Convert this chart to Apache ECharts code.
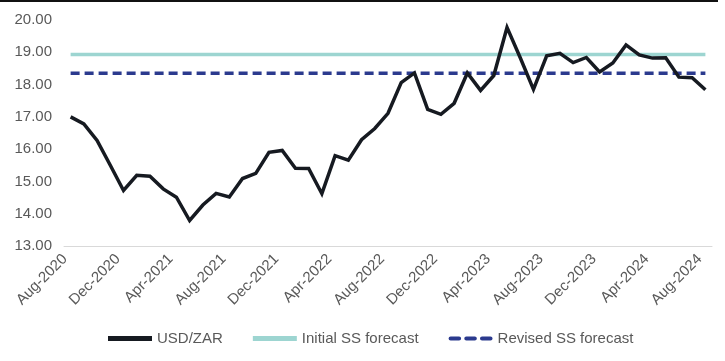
<!DOCTYPE html>
<html>
<head>
<meta charset="utf-8">
<script src="https://cdn.jsdelivr.net/npm/echarts@6/dist/echarts.min.js"></script>
<style>html,body{margin:0;padding:0;background:#fff;}#c{width:725px;height:361px;}</style>
</head>
<body>
<div id="c"></div>
<script>
const months = ["Aug-2020","Sep-2020","Oct-2020","Nov-2020","Dec-2020","Jan-2021","Feb-2021","Mar-2021","Apr-2021","May-2021","Jun-2021","Jul-2021","Aug-2021","Sep-2021","Oct-2021","Nov-2021","Dec-2021","Jan-2022","Feb-2022","Mar-2022","Apr-2022","May-2022","Jun-2022","Jul-2022","Aug-2022","Sep-2022","Oct-2022","Nov-2022","Dec-2022","Jan-2023","Feb-2023","Mar-2023","Apr-2023","May-2023","Jun-2023","Jul-2023","Aug-2023","Sep-2023","Oct-2023","Nov-2023","Dec-2023","Jan-2024","Feb-2024","Mar-2024","Apr-2024","May-2024","Jun-2024","Jul-2024","Aug-2024"];
const usdzar = [17.00,16.78,16.27,15.50,14.72,15.19,15.16,14.77,14.51,13.79,14.27,14.63,14.52,15.09,15.25,15.90,15.96,15.41,15.40,14.62,15.80,15.66,16.29,16.64,17.11,18.06,18.36,17.23,17.08,17.42,18.36,17.82,18.28,19.77,18.83,17.85,18.89,18.97,18.68,18.84,18.39,18.67,19.23,18.92,18.82,18.83,18.23,18.21,17.84];
const initialSS = 18.93;
const revisedSS = 18.35;
const yTicks = [13,14,15,16,17,18,19,20];

const chart = echarts.init(document.getElementById('c'), null, {renderer:'canvas'});
const font = 'Liberation Sans, Arial, sans-serif';
chart.setOption({
  animation:false,
  backgroundColor:'#fff',
  graphic:[{type:'rect', shape:{x:0,y:0,width:718,height:2}, style:{fill:'#111'}}],
  grid:{left:64,right:13,top:20,bottom:115},
  legend:{
    bottom:10, left:103, itemWidth:44, itemHeight:5, itemGap:30,
    textStyle:{fontFamily:font,fontSize:15,color:'#595959'},
    data:[
      {name:'USD/ZAR', icon:'rect'},
      {name:'Initial SS forecast', icon:'rect'},
      {name:'Revised SS forecast', icon:'path://M2,0h8a2,2 0 0 1 0,4h-8a2,2 0 0 1 0,-4z M17,0h8a2,2 0 0 1 0,4h-8a2,2 0 0 1 0,-4z M32,0h8a2,2 0 0 1 0,4h-8a2,2 0 0 1 0,-4z'}
    ]
  },
  xAxis:{
    type:'category', data:months, boundaryGap:true,
    axisLine:{lineStyle:{color:'#d9d9d9',width:1}},
    axisTick:{interval:3,length:5,lineStyle:{color:'#d9d9d9'}},
    axisLabel:{interval:3,rotate:45,fontFamily:font,fontSize:15,color:'#595959',margin:5,padding:[0,8,0,0]}
  },
  yAxis:{
    type:'value', min:yTicks[0], max:yTicks[yTicks.length-1], interval:1,
    splitLine:{show:false},
    axisLine:{show:false}, axisTick:{show:false},
    axisLabel:{fontFamily:font,fontSize:15,color:'#595959',margin:12,formatter:v=>v.toFixed(2)}
  },
  series:[
    {name:'USD/ZAR', type:'line', data:usdzar, symbol:'none', z:3,
     itemStyle:{color:'#161a21'}, lineStyle:{color:'#161a21',width:3.5,join:'miter'}},
    {name:'Initial SS forecast', type:'line', data:months.map(()=>initialSS), symbol:'none', z:2,
     itemStyle:{color:'#9dd5d1'}, lineStyle:{color:'#9dd5d1',width:3.5}},
    {name:'Revised SS forecast', type:'line', data:months.map(()=>revisedSS), symbol:'none', z:2,
     itemStyle:{color:'#2b3a8e'}, lineStyle:{color:'#2b3a8e',width:3.5,type:[9,5]}}
  ]
});
</script>
</body>
</html>
